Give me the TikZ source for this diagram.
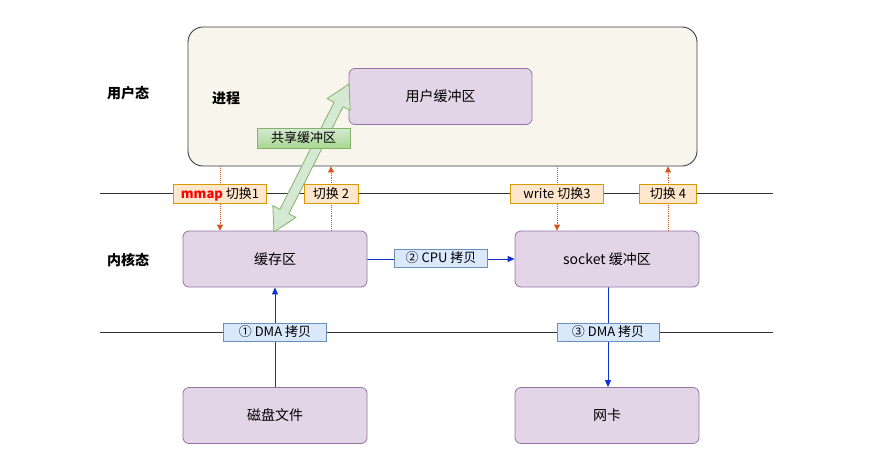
\documentclass[tikz,border=0pt]{standalone}
\usepackage{fontspec}
\setmainfont{Noto Sans CJK SC}
\usetikzlibrary{arrows.meta,calc,backgrounds}

\definecolor{procfill}{HTML}{F8F6EC}
\definecolor{procline}{HTML}{3A3C40}
\definecolor{bufill}{HTML}{E1D5E7}
\definecolor{buline}{HTML}{9673A6}
\definecolor{swfill}{HTML}{FFE6CC}
\definecolor{swline}{HTML}{D79B00}
\definecolor{cpfill}{HTML}{DAE8FC}
\definecolor{cpline}{HTML}{6C8EBF}
\definecolor{shfill}{HTML}{D5E8D4}
\definecolor{shline}{HTML}{82B366}
\definecolor{shdark}{HTML}{A8D890}
\definecolor{swarrow}{HTML}{D4541C}
\definecolor{cparrow}{HTML}{1030D0}

\begin{document}
\begin{tikzpicture}[x=1pt,y=-1pt,
  buf/.style={draw=buline,fill=bufill,rounded corners=6pt,line width=0.8pt,
    minimum width=184pt,minimum height=56pt,inner sep=0pt,font=\fontsize{14}{16}\selectfont},
  swlab/.style={draw=swline,fill=swfill,line width=0.8pt,minimum height=19pt,
    inner sep=0pt,font=\fontsize{13}{15}\selectfont},
  cplab/.style={draw=cpline,fill=cpfill,line width=0.8pt,minimum height=18pt,
    inner sep=0pt,font=\fontsize{13}{15}\selectfont},
  sidelab/.style={font=\fontsize{14}{16}\selectfont\bfseries},
  swline/.style={densely dotted,swarrow,line width=0.9pt,-{Triangle[width=6pt,length=6pt]}},
  cpline/.style={cparrow,line width=0.9pt,-{Triangle[width=6pt,length=7pt]}},
  sepline/.style={black!80,line width=0.8pt}]
  \useasboundingbox (0,0) rectangle (891,471);

  % user space
  \node[draw=procline,fill=procfill,rounded corners=15pt,line width=0.9pt,
    minimum width=509pt,minimum height=139pt,inner sep=0pt] (proc) at (442.5,96.5) {};
  \node[sidelab] (proclab) at (226,98) {进程};
  \node[buf,minimum width=183pt] (ubuf) at (440.5,96.5) {用户缓冲区};
  \node[sidelab] (userlab) at (128,93) {用户态};
  \node[sidelab] (kernlab) at (128,260) {内核态};

  % kernel and devices
  \node[buf] (cache) at (275,259) {缓存区};
  \node[buf] (sock) at (607,259) {socket 缓冲区};
  \node[buf] (disk) at (275,415.5) {磁盘文件};
  \node[buf] (nic) at (607,415.5) {网卡};

  % shared buffer arrow
  \coordinate (ga) at (274,232);
  \coordinate (gb) at (349,84);
  \coordinate (ha) at ($(ga)!23pt!(gb)$);
  \coordinate (hb) at ($(gb)!23pt!(ga)$);
  \filldraw[draw=shline,fill=shfill,line width=0.8pt,line join=round]
    (ga) -- ($(ha)!13pt!90:(gb)$) -- ($(ha)!5pt!90:(gb)$)
    -- ($(hb)!5pt!-90:(ga)$) -- ($(hb)!13pt!-90:(ga)$) -- (gb)
    -- ($(hb)!13pt!90:(ga)$) -- ($(hb)!5pt!90:(ga)$)
    -- ($(ha)!5pt!-90:(gb)$) -- ($(ha)!13pt!-90:(gb)$) -- cycle;
  \node[draw=shline,top color=shfill,bottom color=shdark,line width=0.8pt,
    minimum width=93pt,minimum height=20pt,inner sep=0pt,
    font=\fontsize{13}{15}\selectfont] (shlab) at (303.5,138) {共享缓冲区};

  % switches
  \node[swlab,minimum width=93pt] (sw1) at (220,194)
    {\textcolor{red}{\textbf{mmap}} 切换1};
  \node[swlab,minimum width=54pt] (sw2) at (331,194) {切换 2};
  \node[swlab,minimum width=93pt] (sw3) at (557,194) {write 切换3};
  \node[swlab,minimum width=57pt] (sw4) at (668,194) {切换 4};

  % copies
  \node[cplab,minimum width=93pt] (cpu) at (441,258) {② CPU 拷贝};
  \node[cplab,minimum width=103pt] (dma1) at (275,332) {① DMA 拷贝};
  \node[cplab,minimum width=102pt] (dma3) at (608,332) {③ DMA 拷贝};

  \begin{pgfonlayer}{background}
    \coordinate (l1a) at (100,193);
    \coordinate (l1b) at (773,193);
    \coordinate (l2a) at (100,332);
    \coordinate (l2b) at (773,332);
    \draw[sepline] (l1a) -- (l1b);
    \draw[sepline] (l2a) -- (l2b);
    \draw[swline] (proc.south -| sw1) -- (cache.north -| sw1);
    \draw[swline] (cache.north -| sw2) -- (proc.south -| sw2);
    \draw[swline] (proc.south -| sw3) -- (sock.north -| sw3);
    \draw[swline] (sock.north -| sw4) -- (proc.south -| sw4);
    \draw[cpline] (cache.east) -- (sock.west);
    \draw[cpline] (disk.north) -- (cache.south);
    \draw[cpline] (sock.south -| dma3) -- (nic.north -| dma3);
  \end{pgfonlayer}
\end{tikzpicture}
\end{document}
